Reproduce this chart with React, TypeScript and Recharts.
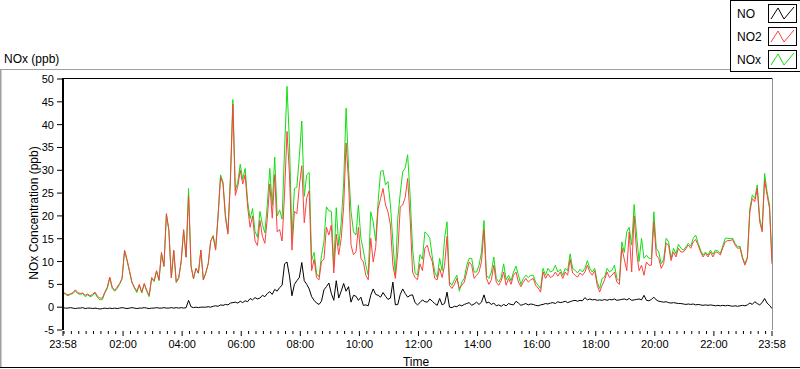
import React from 'react'
import { LineChart, Line, XAxis, YAxis } from 'recharts'

// 5-minute samples starting at 23:58, one value every SAMPLE_MINUTES
const SAMPLE_MINUTES = 5

const NO_PPB = [
    // 23:58 - 04:43
    -0.1, -0.2, -0.2, -0.1, -0.2, -0.3, -0.2, -0.2, -0.1, -0.3,
    -0.2, -0.2, -0.3, -0.2, -0.3, -0.4, -0.3, -0.2, -0.3, -0.2,
    -0.3, -0.2, -0.3, -0.2, -0.1, -0.2, -0.3, -0.2, -0.1, -0.2,
    -0.3, -0.2, -0.2, -0.1, -0.2, -0.3, -0.2, -0.2, -0.1, -0.2,
    -0.2, -0.1, -0.2, -0.2, -0.1, -0.2, -0.1, -0.2, -0.1, -0.2,
    -0.1, 1.5, 0.1, -0.1, 0.0, -0.1, 0.0, 0.0,
    // 04:48 - 09:28
    0.0, 0.1, 0.0, 0.2, 0.3, 0.2, 0.5, 0.4, 0.6, 0.5,
    0.9, 1.0, 1.1, 0.9, 1.3, 1.0, 1.4, 1.2, 1.9, 1.6,
    2.1, 1.8, 2.0, 2.6, 2.3, 3.0, 3.4, 2.8, 3.9, 3.5,
    4.3, 4.8, 9.5, 9.9, 6.8, 2.5, 5.0, 5.8, 6.5, 9.8,
    5.8, 5.0, 4.0, 2.3, 1.5, 0.9, 0.6, 1.3, 3.8, 4.5,
    5.3, 3.0, 1.5, 5.8, 2.0, 3.5, 5.2,
    // 09:33 - 14:18
    3.5, 4.5, 1.1, 2.6, 2.4, 1.5, 2.2, 0.4, 0.5, 0.3,
    2.6, 4.0, 2.8, 2.6, 2.2, 3.2, 2.4, 1.7, 2.0, 5.5,
    0.5, 0.6, 2.8, 4.0, 3.0, 2.2, 2.6, 2.7, 1.0, 0.5,
    1.0, 1.6, 1.2, 1.1, 1.8, 1.3, 0.8, 0.4, 1.9, 0.5,
    0.8, 3.3, 0.0, -0.1, 0.2, 0.1, 0.5, 0.3, 0.6, 0.8,
    1.0, 0.4, 0.7, 1.1, 0.6, 1.1, 2.7, 0.9,
    // 14:23 - 19:08
    1.1, 0.6, 0.9, 0.3, 0.5, 0.2, 0.6, 0.3, 0.8, 0.6,
    0.5, 1.3, 0.9, 0.4, 0.6, 0.8, 0.5, 0.7, 0.6, 0.4,
    0.3, 0.5, 0.6, 0.8, 0.7, 0.9, 1.0, 0.8, 1.2, 1.0,
    1.1, 1.3, 1.0, 1.2, 1.4, 1.5, 1.3, 1.5, 1.4, 2.1,
    1.6, 1.8, 1.6, 1.7, 1.5, 1.6, 1.5, 1.7, 1.5, 1.7,
    1.6, 1.8, 1.5, 1.6, 1.7, 1.8, 1.6, 1.9,
    // 19:13 - 23:58
    1.5, 1.6, 1.7, 1.8, 1.6, 2.6, 1.5, 1.4, 1.7, 2.2,
    1.6, 1.3, 1.2, 1.1, 1.2, 1.0, 0.9, 1.0, 0.9, 0.8,
    0.8, 0.7, 0.6, 0.7, 0.6, 0.7, 0.5, 0.6, 0.5, 0.4,
    0.5, 0.4, 0.5, 0.4, 0.3, 0.4, 0.3, 0.4, 0.3, 0.4,
    0.3, 0.2, 0.3, 0.2, 0.3, 0.4, 0.3, 0.5, 0.9, 0.6,
    1.2, 0.8, 0.5, 1.0, 1.9, 0.9, 0.4, -0.3,
]

const NO2_PPB = [
    3.3, 3.0, 2.7, 2.9, 3.2, 3.8, 3.2, 3.0, 3.1, 2.6,
    2.9, 2.5, 2.8, 3.3, 2.4, 2.0, 2.0, 3.3, 4.4, 6.6,
    4.4, 3.7, 4.4, 5.2, 6.3, 12.5, 10.5, 8.0, 5.5, 4.4,
    3.5, 5.0, 3.3, 5.2, 3.7, 2.6, 6.5, 5.8, 8.0, 6.0,
    12.0, 9.0, 20.5, 17.0, 6.5, 12.5, 5.5, 6.5, 10.0, 17.0,
    11.0, 24.5, 9.0, 6.3, 8.5, 7.5, 12.5, 6.0,

    7.5, 9.5, 14.5, 15.5, 12.5, 20.0, 28.5, 27.0, 19.5, 16.0,
    27.5, 44.5, 24.5, 26.5, 30.0, 27.0, 29.0, 22.0, 17.5, 20.0,
    14.5, 13.5, 19.0, 15.5, 14.0, 19.5, 27.0, 19.5, 29.0, 16.5,
    17.0, 14.5, 25.0, 38.5, 29.0, 12.5, 21.0, 20.5, 26.5, 31.0,
    18.5, 24.0, 25.5, 8.0, 10.5, 6.5, 6.0, 10.0, 10.5, 17.5,
    15.8, 18.0, 7.5, 16.0, 11.5, 15.0, 22.0,

    36.0, 27.5, 13.6, 11.5, 12.1, 17.5, 10.7, 9.9, 7.0, 6.0,
    15.1, 9.9, 13.0, 21.6, 23.8, 26.0, 22.4, 20.9, 18.0, 9.2,
    6.3, 12.1, 22.0, 22.4, 24.0, 28.2, 19.5, 7.7, 6.5, 6.0,
    9.5, 8.0, 12.9, 13.6, 11.4, 10.0, 6.3, 6.0, 8.5, 6.5,
    9.2, 15.5, 4.8, 4.1, 5.0, 6.3, 4.1, 4.8, 5.5, 7.7,
    9.9, 9.2, 6.3, 7.0, 7.7, 10.0, 17.0, 6.3,

    5.0, 6.0, 9.2, 5.5, 4.8, 5.8, 7.7, 4.8, 6.3, 5.0,
    7.0, 7.7, 5.5, 4.5, 5.5, 6.3, 5.5, 6.0, 6.3, 4.8,
    4.2, 3.3, 7.7, 6.3, 7.3, 6.5, 6.8, 7.7, 6.8, 7.7,
    6.3, 7.7, 7.0, 10.5, 7.5, 7.0, 6.6, 7.5, 7.0, 7.7,
    9.2, 7.7, 7.0, 8.0, 4.8, 3.3, 4.8, 6.0, 7.7, 6.5,
    7.0, 7.7, 5.5, 5.0, 13.0, 10.5, 8.0, 16.5,

    7.7, 20.0, 12.1, 8.0, 9.2, 7.0, 9.9, 9.2, 9.2, 18.7,
    11.4, 10.7, 8.5, 9.6, 14.0, 13.6, 10.2, 12.1, 11.0, 12.9,
    12.1, 12.1, 12.8, 13.6, 12.9, 14.3, 14.8, 13.6, 12.1, 11.0,
    11.8, 11.0, 12.1, 11.0, 12.1, 12.0, 11.4, 13.0, 14.3, 14.6,
    14.6, 14.8, 13.6, 12.9, 13.0, 10.7, 9.2, 10.7, 20.9, 23.8,
    23.1, 26.0, 18.7, 16.5, 27.9, 24.6, 21.6, 9.5,
]

const NOX_PPB = [
    3.2, 2.8, 2.5, 2.8, 3.0, 3.5, 3.0, 2.8, 3.0, 2.3,
    2.7, 2.3, 2.5, 3.1, 2.1, 1.6, 1.7, 3.1, 4.1, 6.4,
    4.1, 3.5, 4.1, 5.0, 6.2, 12.3, 10.2, 7.8, 5.4, 4.2,
    3.2, 4.8, 3.1, 5.1, 3.5, 2.3, 6.3, 5.6, 7.9, 5.8,
    11.8, 8.9, 20.3, 16.8, 6.4, 12.3, 5.4, 6.3, 9.9, 16.8,
    10.9, 26.0, 9.1, 6.2, 8.5, 7.4, 12.5, 6.0,

    7.5, 9.6, 14.5, 15.7, 12.8, 20.2, 29.0, 27.4, 20.1, 16.5,
    28.4, 45.5, 25.6, 27.4, 31.3, 28.0, 30.4, 23.2, 19.4, 21.6,
    16.6, 15.3, 21.0, 18.1, 16.3, 22.5, 30.4, 22.3, 32.9, 20.0,
    21.3, 19.3, 34.5, 48.4, 35.8, 15.0, 26.0, 26.3, 33.0, 40.8,
    24.3, 29.0, 29.5, 10.3, 12.0, 7.4, 6.6, 11.3, 14.3, 22.0,
    21.1, 21.0, 9.0, 21.8, 13.5, 18.5, 27.2,

    43.6, 30.4, 21.0, 16.5, 15.8, 22.4, 15.1, 12.5, 9.2, 7.0,
    20.9, 18.7, 14.5, 23.1, 29.7, 30.0, 26.8, 27.5, 22.5, 14.3,
    7.0, 19.5, 25.0, 29.7, 30.5, 33.4, 24.5, 12.9, 7.5, 7.0,
    11.5, 10.5, 16.5, 16.0, 15.1, 11.0, 7.7, 6.5, 10.7, 8.0,
    15.1, 18.7, 5.5, 4.8, 6.0, 7.0, 3.5, 5.5, 6.3, 9.2,
    10.7, 10.7, 7.7, 7.7, 9.2, 12.1, 19.0, 7.0,

    6.3, 7.7, 11.0, 6.3, 5.5, 6.5, 9.5, 6.0, 7.0, 5.8,
    7.7, 9.0, 7.0, 5.0, 6.3, 7.0, 6.5, 7.0, 7.0, 5.5,
    4.8, 4.1, 8.5, 7.0, 8.5, 7.7, 8.0, 9.2, 7.7, 8.3,
    7.0, 8.5, 8.0, 11.7, 8.5, 8.1, 7.5, 8.3, 7.7, 8.5,
    10.2, 8.5, 7.7, 8.5, 5.5, 4.1, 6.3, 6.6, 8.5, 7.7,
    8.1, 9.2, 6.3, 5.8, 14.3, 12.0, 16.5, 17.5,

    13.6, 22.5, 15.8, 10.0, 15.1, 10.7, 11.4, 10.7, 10.7, 20.9,
    12.9, 12.1, 9.5, 10.5, 15.1, 14.3, 10.7, 12.9, 11.7, 13.8,
    12.9, 12.5, 13.2, 14.0, 13.4, 15.1, 15.8, 14.0, 12.5, 11.4,
    12.1, 11.4, 12.5, 11.6, 12.5, 12.3, 11.8, 13.4, 15.1, 15.1,
    15.0, 15.1, 14.0, 13.2, 13.4, 11.0, 9.5, 11.0, 21.6, 24.6,
    23.8, 26.8, 19.5, 17.0, 29.3, 25.3, 22.4, 10.0,
]

// x axis: minutes since 23:58
const MAJOR_TICKS = [0, 122, 242, 362, 482, 602, 722, 842, 962, 1082, 1202, 1322, 1440]
const MAJOR_LABELS = ['23:58', '02:00', '04:00', '06:00', '08:00', '10:00', '12:00', '14:00', '16:00', '18:00', '20:00', '22:00', '23:58']
const MINOR_TICKS = Array.from({ length: 96 }, (_, i) => 2 + i * 15)
const Y_TICKS = [-5, 0, 5, 10, 15, 20, 25, 30, 35, 40, 45, 50]

const LEGEND = [
    { name: 'NO', color: '#000000' },
    { name: 'NO2', color: '#ff4040' },
    { name: 'NOx', color: '#10e010' },
]

const FONT = '"Liberation Sans", Arial, sans-serif'

const rows = NO2_PPB.map((v, i) => ({
    t: i * SAMPLE_MINUTES,
    no: NO_PPB[i],
    no2: v,
    nox: NOX_PPB[i],
}))

const allTicks = Array.from(new Set([...MAJOR_TICKS, ...MINOR_TICKS])).sort((a, b) => a - b)

function TimeTick({ x, y, payload }: any) {
    const idx = MAJOR_TICKS.indexOf(payload.value)
    const major = idx >= 0
    return (
        <g>
            <line x1={x} x2={x} y1={y + 1} y2={y + (major ? 6 : 4)} stroke="#000" />
            {major && (
                <text x={x} y={y + 18} textAnchor="middle" fontSize={11} fontFamily={FONT} fill="#000">
                    {MAJOR_LABELS[idx]}
                </text>
            )}
        </g>
    )
}

function ConcTick({ x, y, payload }: any) {
    return (
        <g>
            <line x1={x + 2} x2={x + 7} y1={y} y2={y} stroke="#000" />
            <text x={x - 1} y={y + 4} textAnchor="end" fontSize={11} fontFamily={FONT} fill="#000">
                {payload.value}
            </text>
        </g>
    )
}

export default function App() {
    return (
        <div style={{ position: 'absolute', left: 0, top: 0, width: 800, height: 369, background: '#fff' }}>
            <svg width={800} height={369} style={{ position: 'absolute', left: 0, top: 0 }}>
                {/* outer panel */}
                <line x1={0} x2={730} y1={69.5} y2={69.5} stroke="#a0a0a0" />
                <line x1={0.5} x2={0.5} y1={69} y2={368} stroke="#a0a0a0" strokeWidth={2} />
                <line x1={0} x2={800} y1={367.5} y2={367.5} stroke="#000" />
                <text x={4} y={63} fontSize={12} fontFamily={FONT} fill="#000">NOx (ppb)</text>
                <text x={416} y={366} textAnchor="middle" fontSize={12} fontFamily={FONT} fill="#000">Time</text>
                <text
                    x={38}
                    y={213}
                    textAnchor="middle"
                    fontSize={12}
                    fontFamily={FONT}
                    fill="#000"
                    transform="rotate(-90 38 213)"
                >
                    NOx Concentration (ppb)
                </text>
            </svg>

            <div style={{ position: 'absolute', left: 0, top: 0 }}>
                <LineChart width={800} height={369} data={rows} margin={{ top: 79, right: 28, bottom: 0, left: 0 }}>
                    <XAxis
                        dataKey="t"
                        type="number"
                        domain={[0, 1440]}
                        ticks={allTicks}
                        interval={0}
                        tick={<TimeTick />}
                        tickLine={false}
                        tickSize={0}
                        tickMargin={0}
                        axisLine={false}
                        height={39}
                    />
                    <YAxis
                        type="number"
                        domain={[-5, 50]}
                        ticks={Y_TICKS}
                        interval={0}
                        width={63}
                        tick={<ConcTick />}
                        tickLine={false}
                        tickSize={0}
                        tickMargin={8}
                        axisLine={{ stroke: '#000', strokeWidth: 2 }}
                        allowDataOverflow
                    />
                    <Line dataKey="nox" type="linear" stroke="#10e010" strokeWidth={1} dot={false} isAnimationActive={false} />
                    <Line dataKey="no2" type="linear" stroke="#ff4040" strokeWidth={1} dot={false} isAnimationActive={false} />
                    <Line dataKey="no" type="linear" stroke="#000000" strokeWidth={1} dot={false} isAnimationActive={false} />
                </LineChart>
            </div>

            <svg width={800} height={369} style={{ position: 'absolute', left: 0, top: 0, pointerEvents: 'none' }}>
                {/* plot frame */}
                <line x1={62} x2={772} y1={78.5} y2={78.5} stroke="#000" />
                <line x1={772.5} x2={772.5} y1={78} y2={330} stroke="#909090" />
                {/* legend */}
                <rect x={730.5} y={0.5} width={70} height={71} fill="#fff" stroke="#000" />
                {LEGEND.map((item, i) => {
                    const top = 4 + i * 23
                    return (
                        <g key={item.name}>
                            <text x={737} y={top + 14} fontSize={12} fontFamily={FONT} fill="#000">{item.name}</text>
                            <rect x={768.5} y={top + 0.5} width={28} height={18} fill="#fff" stroke="#000" />
                            <polyline
                                points={`${771},${top + 15} ${778},${top + 4} ${784},${top + 15} ${794},${top + 3}`}
                                fill="none"
                                stroke={item.color}
                            />
                        </g>
                    )
                })}
            </svg>
        </div>
    )
}
